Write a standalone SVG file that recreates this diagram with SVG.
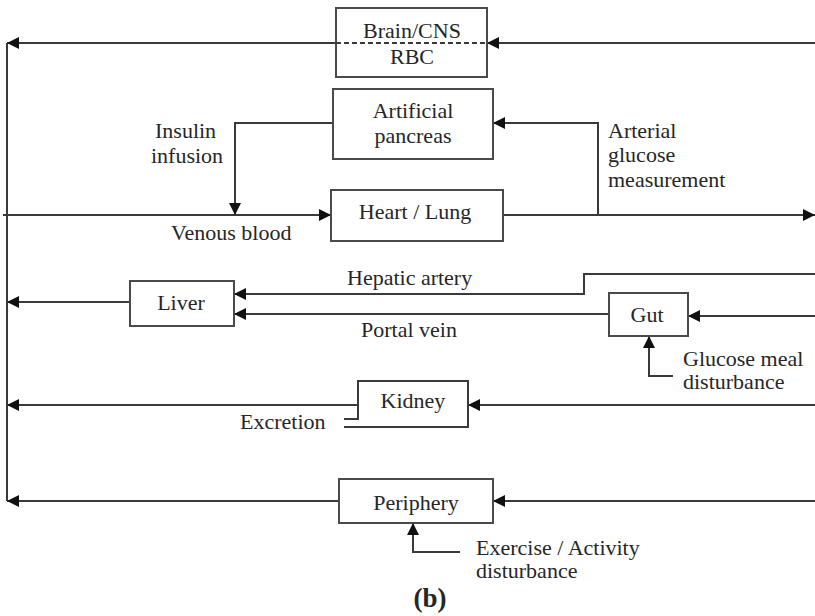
<svg xmlns="http://www.w3.org/2000/svg" width="815" height="616" viewBox="0 0 815 616">
<style>
.bx{fill:#fff;stroke:#4a4a4a;stroke-width:2}
.ln{fill:none;stroke:#3a3a3a;stroke-width:2}
.ar{fill:none;stroke:#3a3a3a;stroke-width:2;marker-end:url(#ah)}
text{font-family:"Liberation Serif","Times New Roman",serif;font-size:22px;fill:#262626}
.c{text-anchor:middle}
</style>
<defs>
<marker id="ah" viewBox="0 0 12 12" refX="12" refY="6" markerWidth="12" markerHeight="12" markerUnits="userSpaceOnUse" orient="auto">
<path d="M0,0 L12,6 L0,12 Z" fill="#111"/>
</marker>
</defs>
<rect width="815" height="616" fill="#fff"/>
<g id="connectors">
<line class="ln" x1="7" y1="43" x2="7" y2="501"/>
<line class="ar" x1="815" y1="43" x2="487" y2="43"/>
<line class="ar" x1="336" y1="43" x2="7" y2="43"/>
<line class="ar" x1="3" y1="215" x2="331" y2="215"/>
<line class="ar" x1="503" y1="215" x2="815" y2="215"/>
<polyline class="ar" points="333,123 235,123 235,215"/>
<polyline class="ar" points="598,215 598,123 493,123"/>
<line class="ar" x1="130" y1="302" x2="7" y2="302"/>
<polyline class="ar" points="815,274 584,274 584,294 234,294"/>
<line class="ar" x1="609" y1="314" x2="234" y2="314"/>
<line class="ar" x1="815" y1="316" x2="688" y2="316"/>
<polyline class="ar" points="673,376 649,376 649,336"/>
<line class="ar" x1="358" y1="405" x2="7" y2="405"/>
<line class="ar" x1="815" y1="405" x2="468" y2="405"/>
<line class="ar" x1="339" y1="501" x2="7" y2="501"/>
<line class="ar" x1="815" y1="501" x2="493" y2="501"/>
<polyline class="ar" points="460,552 413,552 413,523"/>
</g>
<g id="brain-cns">
<rect class="bx" x="336" y="8" width="151" height="69"/>
<line x1="336" y1="43" x2="487" y2="43" stroke="#3a3a3a" stroke-width="2" stroke-dasharray="5,3"/>
<text class="c" x="412" y="38">Brain/CNS</text>
<text class="c" x="412" y="64">RBC</text>
</g>
<g id="artificial-pancreas">
<rect class="bx" x="333" y="89" width="160" height="70"/>
<text class="c" x="413" y="118">Artificial</text>
<text class="c" x="413" y="143">pancreas</text>
</g>
<g id="heart-lung">
<rect class="bx" x="331" y="190" width="172" height="51"/>
<text class="c" x="415" y="219">Heart / Lung</text>
</g>
<g id="liver">
<rect class="bx" x="130" y="281" width="104" height="45"/>
<text class="c" x="181" y="310">Liver</text>
</g>
<g id="gut">
<rect class="bx" x="609" y="293" width="79" height="43"/>
<text class="c" x="647" y="322">Gut</text>
</g>
<g id="kidney">
<path class="ln" d="M344,427 H468 V381 H358 V419 H344"/>
<text class="c" x="413" y="408">Kidney</text>
</g>
<g id="periphery">
<rect class="bx" x="339" y="479" width="154" height="44"/>
<text class="c" x="416" y="510">Periphery</text>
</g>
<g id="labels">
<text x="155" y="138">Insulin</text>
<text x="151" y="163">infusion</text>
<text x="171" y="240">Venous blood</text>
<text x="608" y="138">Arterial</text>
<text x="608" y="162">glucose</text>
<text x="608" y="187">measurement</text>
<text x="347" y="285">Hepatic artery</text>
<text x="361" y="337">Portal vein</text>
<text x="683" y="366">Glucose meal</text>
<text x="683" y="389">disturbance</text>
<text x="240" y="429">Excretion</text>
<text x="476" y="555">Exercise / Activity</text>
<text x="476" y="578">disturbance</text>
<text class="c" x="430" y="607" style="font-weight:bold;font-size:27px">(b)</text>
</g>
</svg>
